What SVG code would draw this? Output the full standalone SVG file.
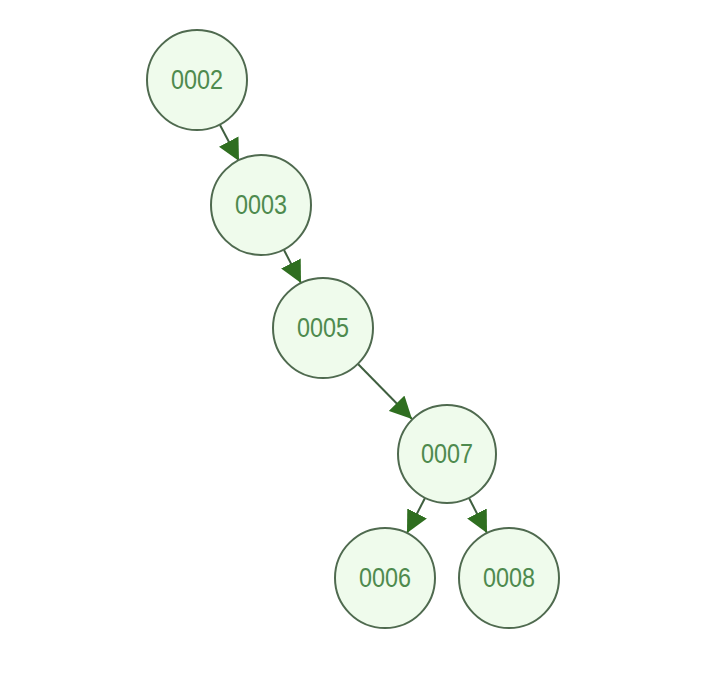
<svg xmlns="http://www.w3.org/2000/svg" width="718" height="684" viewBox="0 0 718 684">
<defs>
<style>
.n circle{fill:#effbec;stroke:#4f6a4f;stroke-width:2}
.n text{font-family:"Liberation Sans",Arial,sans-serif;font-size:27px;fill:#4e8a4e;text-anchor:middle}
.e line{stroke:#3f5f3f;stroke-width:2}
</style>
<marker id="a" viewBox="0 0 20 20" refX="20" refY="10" markerWidth="22" markerHeight="22" markerUnits="userSpaceOnUse" orient="auto">
<path d="M0,0 L20,10 L0,20 Z" fill="#2f6e20"/>
</marker>
</defs>
<rect width="718" height="684" fill="#ffffff"/>
<g id="edges" class="e">
<line x1="220" y1="125" x2="239" y2="161" marker-end="url(#a)"/>
<line x1="284" y1="250" x2="301" y2="283" marker-end="url(#a)"/>
<line x1="358" y1="364" x2="412" y2="419" marker-end="url(#a)"/>
<line x1="425" y1="498" x2="407" y2="533" marker-end="url(#a)"/>
<line x1="469" y1="498" x2="487" y2="533" marker-end="url(#a)"/>
</g>
<g id="n0002" class="n"><circle cx="197" cy="80" r="50"/><text x="197" y="89" textLength="52" lengthAdjust="spacingAndGlyphs">0002</text></g>
<g id="n0003" class="n"><circle cx="261" cy="205" r="50"/><text x="261" y="214" textLength="52" lengthAdjust="spacingAndGlyphs">0003</text></g>
<g id="n0005" class="n"><circle cx="323" cy="328" r="50"/><text x="323" y="337" textLength="52" lengthAdjust="spacingAndGlyphs">0005</text></g>
<g id="n0007" class="n"><circle cx="447" cy="454" r="49"/><text x="447" y="463" textLength="52" lengthAdjust="spacingAndGlyphs">0007</text></g>
<g id="n0006" class="n"><circle cx="385" cy="578" r="50"/><text x="385" y="587" textLength="52" lengthAdjust="spacingAndGlyphs">0006</text></g>
<g id="n0008" class="n"><circle cx="509" cy="578" r="50"/><text x="509" y="587" textLength="52" lengthAdjust="spacingAndGlyphs">0008</text></g>
</svg>
